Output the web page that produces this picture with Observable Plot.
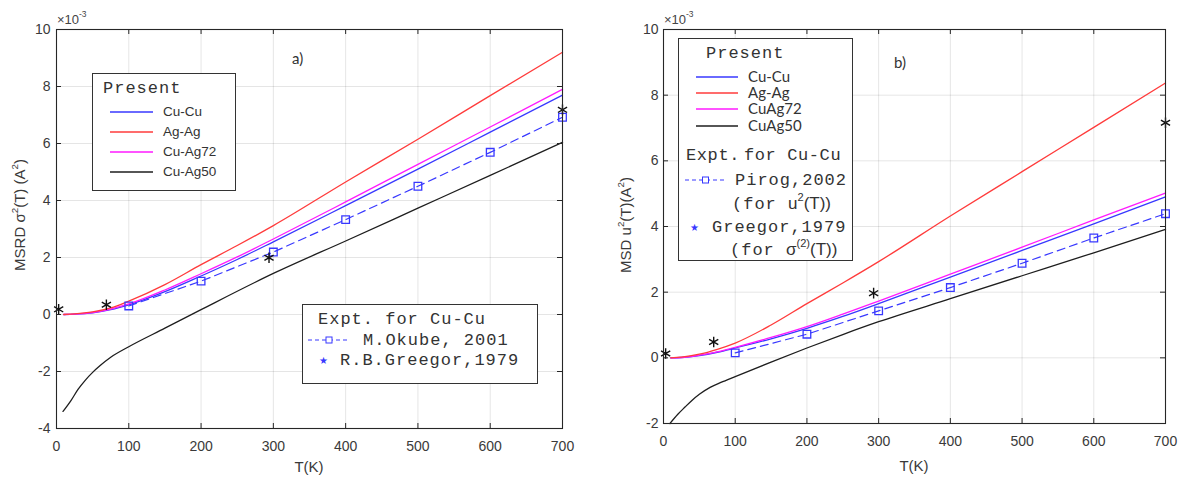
<!DOCTYPE html>
<html><head><meta charset="utf-8">
<script src="https://cdn.jsdelivr.net/npm/d3@7"></script>
<script src="https://cdn.jsdelivr.net/npm/@observablehq/plot@0.6"></script>
<style>
body{margin:0;background:#fff;}
#wrap{position:relative;width:1181px;height:479px;overflow:hidden;font-family:"Liberation Sans",Arial,sans-serif;color:#333;background:#fff;}
.abs{position:absolute;white-space:nowrap;line-height:1;}
.mono{font-family:"Liberation Mono","Courier New",monospace;font-size:17px;letter-spacing:1px;color:#333;}
.box{position:absolute;border:1.3px solid #333;background:#fff;box-sizing:border-box;}
sup{font-size:65%;line-height:0;position:relative;top:-0.15em;vertical-align:super;}
</style></head><body><div id="wrap"></div>
<script>
// ---------- data ----------
const xTicks = [0,100,200,300,400,500,600,700];
const yTicksA = [-4,-2,0,2,4,6,8,10];
const yTicksB = [-2,0,2,4,6,8,10];

// Panel a (MSRD, x1e-3 A^2)
const tA = [10,25,50,75,100,150,200,250,300,400,500,600,700];
const cuCuA   = [0.0,0.01,0.06,0.17,0.34,0.80,1.35,1.93,2.55,3.82,5.10,6.40,7.70];
const agAgA   = [0.0,0.02,0.09,0.23,0.47,1.05,1.75,2.42,3.12,4.65,6.15,7.68,9.20];
const cuAg72A = [0.0,0.01,0.07,0.19,0.37,0.86,1.43,2.02,2.65,3.95,5.27,6.58,7.90];
const t50A    = [9,20,30,40,50,60,75,100,150,200,300,400,500,600,700];
const cuAg50A = [-3.40,-3.02,-2.62,-2.30,-2.03,-1.80,-1.50,-1.13,-0.48,0.17,1.44,2.58,3.73,4.88,6.04];
const okubeT  = [100,200,300,400,500,600,700];
const okubeV  = [0.30,1.17,2.19,3.33,4.50,5.69,6.92];
const greegorTA = [3,69,294,700];
const greegorVA = [0.18,0.34,1.99,7.18];

// Panel b (MSD, x1e-3 A^2)
const tB = [10,25,50,75,100,150,200,250,300,400,500,600,700];
const cuCuB   = [0.0,0.01,0.07,0.17,0.30,0.58,0.90,1.26,1.65,2.46,3.27,4.08,4.90];
const agAgB   = [0.0,0.02,0.11,0.26,0.45,1.00,1.65,2.28,2.93,4.32,5.67,7.02,8.37];
const cuAg72B = [0.0,0.01,0.08,0.18,0.32,0.62,0.95,1.33,1.73,2.55,3.37,4.20,5.02];
const t50B    = [9,20,30,40,50,65,80,100,150,200,250,300,400,500,600,700];
const cuAg50B = [-2.00,-1.72,-1.50,-1.29,-1.11,-0.90,-0.75,-0.57,-0.13,0.30,0.71,1.10,1.80,2.50,3.20,3.91];
const pirogT  = [100,200,300,400,500,600,700];
const pirogV  = [0.15,0.72,1.43,2.14,2.88,3.65,4.39];
const greegorTB = [3,70,293,700];
const greegorVB = [0.13,0.48,1.97,7.16];

const seriesNamesA = ["Cu-Cu","Ag-Ag","Cu-Ag72","Cu-Ag50"];
const seriesNamesB = ["Cu-Cu","Ag-Ag","CuAg72","CuAg50"];
const colors = {blue:"#3838ff", red:"#ff3b3b", magenta:"#ff1aff", black:"#1e1e1e", frame:"#262626"};

// ---------- helpers ----------
const zip = (t, v) => t.map((x, i) => ({T: x, v: v[i]}));
const wrap = document.getElementById("wrap");
const NS = "http://www.w3.org/2000/svg";

function panel({left, width, mLeft, mRight, mBottom, yDomain, yTicks, padY, curves, expT, expV, grT, grV}) {
  const H = 479, mTop = 29;
  const innerW = width - mLeft - mRight, innerH = H - mTop - mBottom;
  const lineOpts = (c) => ({x: "T", y: "v", stroke: c, strokeWidth: 1.3, curve: "monotone-x"});
  const svg = Plot.plot({
    width, height: H, marginLeft: mLeft, marginRight: mRight, marginTop: mTop, marginBottom: mBottom,
    x: {domain: [0, 700], label: null},
    y: {domain: yDomain, label: null},
    style: {fontFamily: "Liberation Sans, Arial, sans-serif", fontSize: "14px", color: "#3a3a3a", background: "transparent"},
    marks: [
      Plot.gridX(xTicks, {stroke: "#000", strokeOpacity: 0.1}),
      Plot.gridY(yTicks, {stroke: "#000", strokeOpacity: 0.1}),
      Plot.axisX(xTicks, {tickSize: 0, tickPadding: 13, tickFormat: d => String(d), label: null, fontSize: 14}),
      Plot.axisY(yTicks, {tickSize: 0, tickPadding: padY, tickFormat: d => String(d), label: null, fontSize: 14}),
      Plot.line(curves[3], lineOpts(colors.black)),
      Plot.line(curves[0], lineOpts(colors.blue)),
      Plot.line(curves[2], lineOpts(colors.magenta)),
      Plot.line(curves[1], lineOpts(colors.red)),
      Plot.line(zip(expT, expV), {x: "T", y: "v", stroke: colors.blue, strokeWidth: 1.2, strokeDasharray: "8,5"}),
      Plot.dot(zip(expT, expV), {x: "T", y: "v", symbol: "square", r: 4.3, stroke: colors.blue, fill: "none", strokeWidth: 1.3}),
      Plot.dot(zip(grT, grV), {x: "T", y: "v", symbol: "asterisk", r: 5, stroke: "#111", strokeWidth: 1.4}),
      Plot.tickX(xTicks, {x: d => d, insetTop: innerH - 5, stroke: colors.frame}),
      Plot.tickX(xTicks, {x: d => d, insetBottom: innerH - 5, stroke: colors.frame}),
      Plot.tickY(yTicks, {y: d => d, insetRight: innerW - 5, stroke: colors.frame}),
      Plot.tickY(yTicks, {y: d => d, insetLeft: innerW - 5, stroke: colors.frame}),
      Plot.frame({stroke: colors.frame, strokeWidth: 1.1})
    ]
  });
  svg.style.position = "absolute";
  svg.style.left = left + "px";
  svg.style.top = "0px";
  wrap.appendChild(svg);
}

function txt(x, yc, html, cls, extra) {
  const d = document.createElement("div");
  d.className = "abs " + (cls || "");
  d.style.left = x + "px";
  d.style.top = yc + "px";
  d.style.transform = "translateY(-50%)";
  if (extra) Object.assign(d.style, extra);
  d.innerHTML = html;
  wrap.appendChild(d);
  return d;
}
function box(x, y, w, h) {
  const d = document.createElement("div");
  d.className = "box";
  Object.assign(d.style, {left: x + "px", top: y + "px", width: w + "px", height: h + "px"});
  wrap.appendChild(d);
}
function miniSvg(x1, x2, y, inner) {
  const s = document.createElementNS(NS, "svg");
  const w = x2 - x1;
  s.setAttribute("width", w); s.setAttribute("height", 10);
  Object.assign(s.style, {position: "absolute", left: x1 + "px", top: (y - 5) + "px", overflow: "visible"});
  s.innerHTML = inner(w);
  wrap.appendChild(s);
}
function sample(x1, x2, y, color) {
  miniSvg(x1, x2, y, w => `<line x1="0" y1="5" x2="${w}" y2="5" stroke="${color}" stroke-width="1.4"/>`);
}
function dashSample(x1, x2, y, color) {
  miniSvg(x1, x2, y, w => `<line x1="0" y1="5" x2="${w}" y2="5" stroke="${color}" stroke-width="1" stroke-dasharray="4,3"/>` +
    `<rect x="${w/2 - 3}" y="2" width="6" height="6" fill="#fff" stroke="${color}" stroke-width="1"/>`);
}
function starSample(x, y, color) {
  txt(x - 4, y + 1, "&#9733;", "", {color, fontSize: "10px"});
}

// ---------- panel a ----------
panel({left: 0, width: 580, mLeft: 56, mRight: 18, mBottom: 51, yDomain: [-4, 10], yTicks: yTicksA, padY: 6,
  curves: [zip(tA, cuCuA), zip(tA, agAgA), zip(tA, cuAg72A), zip(t50A, cuAg50A)],
  expT: okubeT, expV: okubeV, grT: greegorTA, grV: greegorVA});

// ---------- panel b ----------
panel({left: 600, width: 581, mLeft: 63, mRight: 16, mBottom: 56, yDomain: [-2, 10], yTicks: yTicksB, padY: 5,
  curves: [zip(tB, cuCuB), zip(tB, agAgB), zip(tB, cuAg72B), zip(t50B, cuAg50B)],
  expT: pirogT, expV: pirogV, grT: greegorTB, grV: greegorVB});

// ---------- annotations ----------
txt(57, 19, "&times;10<sup>-3</sup>", "", {fontSize: "13px", color: "#444"});
txt(664, 19, "&times;10<sup>-3</sup>", "", {fontSize: "13px", color: "#444"});
txt(292, 58, "a)", "", {fontFamily: "Lato, sans-serif", fontSize: "15px", color: "#333"});
txt(894, 62, "b)", "", {fontFamily: "Lato, sans-serif", fontSize: "15px", color: "#333"});

// axis titles
txt(309, 466, "T(K)", "", {fontSize: "15px", color: "#3a3a3a", transform: "translate(-50%,-50%)"});
txt(914, 465, "T(K)", "", {fontSize: "15px", color: "#3a3a3a", transform: "translate(-50%,-50%)"});
txt(19, 215, "MSRD &sigma;<sup>2</sup>(T) (A<sup>2</sup>)", "", {fontSize: "15px", color: "#3a3a3a", transform: "translate(-50%,-50%) rotate(-90deg)"});
txt(625, 225, "MSD u<sup>2</sup>(T)(A<sup>2</sup>)", "", {fontSize: "15px", color: "#3a3a3a", transform: "translate(-50%,-50%) rotate(-90deg)"});

// legend a (Present)
const legColors = [colors.blue, colors.red, colors.magenta, colors.black];
box(92, 73, 144, 118);
txt(103, 88, "Present", "mono");
[111.7, 132.3, 152.3, 172].forEach((y, i) => {
  sample(110, 153, y, legColors[i]);
  txt(163, y, seriesNamesA[i], "", {fontSize: "13.5px", color: "#333"});
});
// legend a (Expt)
box(302, 304, 236, 80);
txt(318, 319, "Expt. for Cu-Cu", "mono");
dashSample(308, 350, 340, colors.blue);
txt(363, 340, "M.Okube, 2001", "mono");
starSample(323, 360, colors.blue);
txt(340, 360, "R.B.Greegor,1979", "mono");

// legend b
box(678, 38, 175, 223);
txt(706, 53, "Present", "mono");
[76.7, 93.3, 109.3, 126].forEach((y, i) => {
  sample(696, 738, y, legColors[i]);
  txt(748, y, seriesNamesB[i], "", {fontFamily: "Lato, sans-serif", fontSize: "15px", lineHeight: "0.9", color: "#333"});
});
txt(686, 155, "Expt.&thinsp;for Cu-Cu", "mono", {letterSpacing: "0.6px"});
dashSample(685, 726, 180, colors.blue);
txt(735, 180, "Pirog,2002", "mono");
txt(732, 204, "(for <span style='font-family:Liberation Sans,Arial;letter-spacing:0'>u<sup>2</sup>(T))</span>", "mono");
starSample(694, 227, colors.blue);
txt(712, 227, "Greegor,1979", "mono");
txt(730, 250, "(for <span style='font-family:Liberation Sans,Arial;letter-spacing:0'>&sigma;<sup>(2)</sup>(T))</span>", "mono");
</script>
</body></html>
